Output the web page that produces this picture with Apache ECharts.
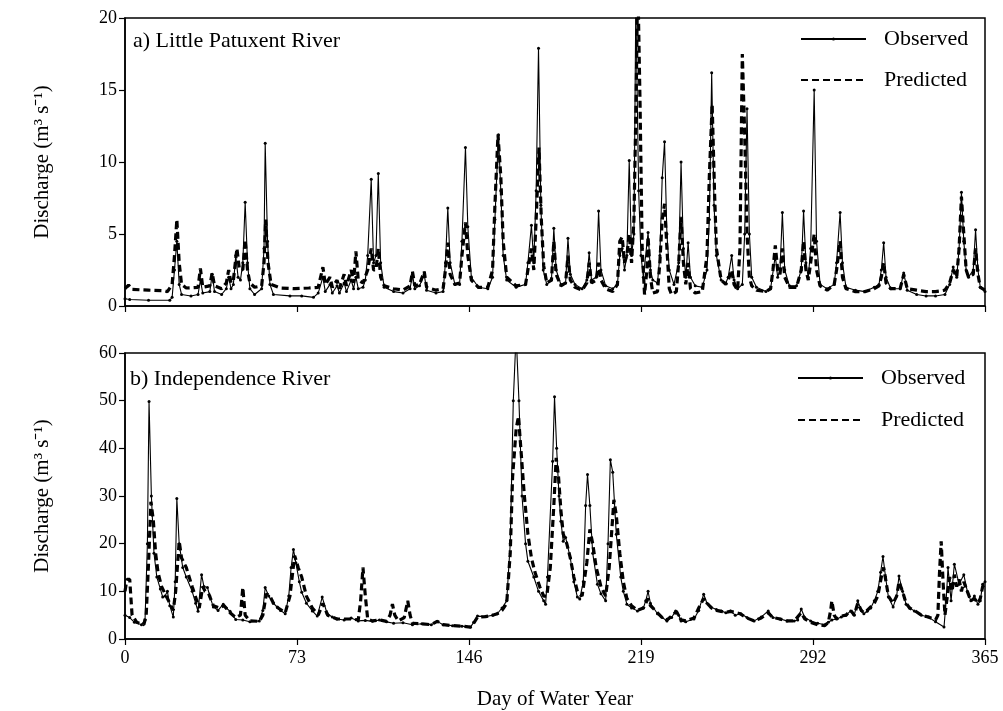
<!DOCTYPE html>
<html>
<head>
<meta charset="utf-8">
<script src="https://cdn.jsdelivr.net/npm/echarts@6/dist/echarts.min.js"></script>
<style>html,body{margin:0;padding:0;background:#fff}#c{width:1003px;height:711px}</style>
</head>
<body>
<div id="c"></div>
<script>
const xTicks = [0, 73, 146, 219, 292, 365];
const yTicksA = [0, 5, 10, 15, 20];
const yTicksB = [0, 10, 20, 30, 40, 50, 60];
const panelTitles = ['a) Little Patuxent River', 'b) Independence River'];
const seriesNames = ['Observed', 'Predicted'];

// [day, discharge] vertices
const obsA = [[0,0.5],[2,0.45],[10,0.4],[19,0.4],[20,0.6],[21,2.5],[22,4.5],[23,1.5],[24,0.8],[28,0.7],[31,0.8],[32,1.8],[33,0.9],[36,1.0],[37,2.2],[38,1.0],[41,0.8],[43,1.2],[44,2.0],[45,1.2],[46,1.5],[47,3.5],[48,2.0],[49,1.8],[50,3.0],[51,7.2],[52,3.0],[53,1.2],[55,0.8],[58,1.2],[59,4.0],[59.5,11.3],[60.5,4.5],[61.5,1.5],[63,0.8],[70,0.7],[75,0.7],[80,0.6],[82,0.9],[84,2.0],[85,1.0],[87,1.5],[88,0.9],[90,1.4],[91,0.9],[93,1.6],[94,1.0],[96,1.8],[97,1.2],[98,2.0],[99,1.2],[101,1.3],[102,1.8],[103,3.5],[104.5,8.8],[105.5,3.0],[106.5,3.5],[107.5,9.2],[108.5,3.0],[110,1.3],[114,1.0],[118,0.9],[121,1.2],[122,2.2],[123,1.2],[125,1.4],[127,2.2],[128,1.1],[132,0.9],[135,1.0],[136,3.0],[137,6.8],[138,3.0],[140,1.5],[142,1.5],[143,4.5],[144.5,11.0],[145.5,5.5],[147,2.0],[150,1.3],[154,1.2],[156,2.0],[157,6.0],[158.5,11.9],[159.5,8],[160.5,3.5],[162,1.8],[166,1.3],[170,1.5],[171,3.0],[172.5,5.6],[173.5,3.0],[174.5,8.0],[175.5,17.9],[176.5,7.0],[177.5,2.5],[179,1.5],[181,1.8],[182,5.4],[183,2.5],[185,1.5],[187,1.6],[188,4.7],[189,2.2],[191,1.5],[194,1.2],[196,1.8],[197,3.7],[198,1.8],[200,2.0],[201,6.6],[202,2.5],[204,1.4],[207,1.2],[209,1.5],[210,3.5],[211,4.0],[212,2.5],[213,3.5],[214,10.1],[215,3.5],[216,5.0],[216.8,21],[218,8],[219,3.5],[220,2.0],[222,5.1],[223,2.5],[224,1.8],[226,1.6],[227,3.5],[228,8.9],[229,11.4],[230,5.0],[231,2.5],[233,1.5],[235,3.0],[236,10.0],[237,4.0],[238,2.0],[239,4.4],[240,2.0],[242,1.4],[245,1.3],[247,2.5],[248,6.0],[249,16.2],[250,7.0],[251,3.5],[253,1.8],[255,1.6],[256,2.0],[257.5,3.5],[258.5,1.8],[260,1.2],[262,1.5],[263,5.0],[264,13.7],[265,5.0],[266,2.0],[268,1.3],[272,1.0],[274,1.2],[276,3.5],[277,2.0],[278,2.5],[279,6.5],[280,2.5],[282,1.4],[285,1.4],[287,2.5],[288,6.6],[289,3.0],[290,2.0],[291,4.0],[292.5,15.0],[293.5,4.5],[295,1.5],[298,1.2],[301,1.5],[302,3.0],[303.5,6.5],[304.5,3.0],[306,1.3],[310,1.1],[314,1.0],[318,1.3],[320,1.5],[321,2.5],[322,4.4],[323,2.0],[325,1.2],[329,1.2],[330.5,2.3],[332,1.1],[336,0.8],[340,0.7],[344,0.7],[348,0.8],[350,1.5],[351.5,2.7],[353,2.0],[354,4.0],[355,7.9],[356,4.5],[357,2.5],[358,2.0],[360,2.5],[361,5.3],[362,2.5],[363,1.3],[365,1.0]];

const predA = [[0,1.2],[1.5,1.45],[3,1.15],[10,1.1],[17,1.05],[18,1.0],[20,1.5],[21,3.5],[22,6.0],[23,3.0],[24,1.5],[26,1.25],[31,1.3],[32,2.6],[33,1.3],[36,1.4],[37,2.3],[38,1.4],[41,1.2],[43,1.6],[44,2.5],[45,1.6],[46,1.8],[47.5,4.0],[48.5,2.6],[50,2.5],[51,4.6],[52,2.5],[53,1.6],[55,1.3],[58,1.4],[59,3.0],[59.7,6.0],[60.7,3.0],[62,1.5],[66,1.25],[72,1.2],[78,1.25],[82,1.3],[84,2.7],[85,1.5],[87,2.0],[88,1.3],[90,1.8],[91,1.2],[93,2.2],[94,1.4],[96,2.5],[97,1.6],[98,3.8],[99,1.8],[101,1.6],[103,2.5],[104.5,4.0],[105.5,2.5],[106.5,2.5],[107.5,4.0],[108.5,2.0],[110,1.4],[114,1.2],[118,1.1],[121,1.4],[122,2.4],[123,1.4],[125,1.5],[127,2.4],[128,1.3],[132,1.1],[135,1.2],[136,2.5],[137,4.4],[138,2.2],[140,1.5],[142,1.6],[143,3.5],[144.5,5.8],[145.5,3.5],[147,1.8],[150,1.3],[154,1.3],[156,2.5],[157,7.0],[158.3,11.9],[159.5,9.0],[160.5,4.5],[162,2.0],[166,1.4],[170,1.5],[171,2.5],[172.5,4.0],[173.5,2.5],[174.5,6.0],[175.7,11.0],[176.7,6.0],[177.7,2.8],[179,1.6],[181,1.8],[182,4.5],[183,2.2],[185,1.4],[187,1.6],[188,3.5],[189,1.8],[191,1.3],[194,1.1],[196,1.6],[197,3.0],[198,1.6],[200,1.8],[201,3.0],[202,1.8],[204,1.2],[207,1.0],[209,1.5],[210,4.5],[211,4.8],[212,3.0],[213,3.5],[214,5.0],[215,3.0],[216,6.0],[217,15],[217.6,23],[218.6,14],[219.5,4],[220.5,0.8],[221.5,2.5],[222,4.8],[223,2.0],[224,0.9],[226,1.0],[227,3.0],[228,6.0],[229,7.1],[230,4.0],[231,1.2],[232,0.8],[234,1.0],[235,3.0],[236,6.2],[237,3.0],[238,1.5],[239,3.0],[240,1.2],[242,0.9],[245,1.0],[247,3.5],[248,9.0],[249.2,14.0],[250.2,8.0],[251,4.0],[253,1.8],[255,1.5],[256,1.8],[257.5,2.5],[258.5,1.5],[260,1.1],[261,4.0],[262,17.5],[263,12.0],[264,5.0],[265,2.0],[266,1.4],[268,1.1],[272,1.0],[274,1.2],[275,2.5],[276,4.2],[277,2.5],[278,2.2],[279,4.0],[280,2.0],[282,1.3],[285,1.3],[287,2.5],[288,4.5],[289,2.5],[290,1.8],[291,3.0],[292.5,5.0],[293.5,2.5],[295,1.4],[298,1.1],[301,1.5],[302,2.5],[303.5,4.5],[304.5,2.0],[306,1.2],[310,1.0],[314,1.0],[318,1.2],[320,1.4],[321,2.0],[322,3.0],[323,1.6],[325,1.2],[329,1.2],[330.5,2.2],[332,1.2],[336,1.1],[340,1.0],[344,1.0],[348,1.1],[350,1.6],[351.5,2.5],[353,2.0],[354,4.0],[355,7.6],[356,5.0],[357,2.5],[358,2.0],[360,2.2],[361,4.0],[362,2.2],[363,1.3],[365,1.1]];

const obsB = [[0,5.0],[2,4.5],[4,3.5],[7,3.0],[8.5,4.0],[9.5,20],[10.2,49.8],[11.2,30],[12.3,18],[13.5,13],[15,10.5],[16,8.8],[17,9],[18,10],[19,7],[20.5,4.6],[21.3,12],[22,29.5],[23,20],[24.5,15],[26,13],[28.5,10],[30,7.5],[31,5.8],[32.5,13.5],[33.5,11],[35,10.8],[36,9],[37.5,6.7],[39.5,6.0],[41.7,7.3],[43,6.5],[44.6,5.8],[47,4.1],[50,4.0],[53,3.6],[57,3.8],[58.5,6],[59.5,10.8],[61,9],[63,7.5],[64.6,6.7],[66,6.0],[68,5.3],[69.5,9],[70.5,15],[71.5,18.8],[72.5,16],[74,12],[75,9.8],[77,7.5],[79.5,5.9],[81.6,4.8],[83.7,8.8],[85.8,5.3],[88,4.6],[90,4.2],[93,4.0],[96,4.4],[99,3.8],[102,3.9],[105,3.7],[108,4.0],[111,3.6],[114,3.3],[118,3.4],[122,3.0],[126,3.2],[130,3.0],[132.5,3.7],[135,3.0],[139,2.8],[143,2.7],[146.6,2.5],[148,3.5],[149.6,4.8],[153,4.7],[156,5.0],[158,5.3],[160,6.5],[162,8],[163.5,20],[164.8,50],[166,64],[167.2,50],[168.5,30],[170,20],[171,16.3],[173.5,13],[175.5,10],[177.7,8],[178.5,7.3],[179.3,13],[181.5,37.3],[182.3,50.8],[183.2,40],[184.2,30],[185,24.7],[186,20.5],[187,21.3],[189,17],[190.5,12],[192,8.8],[193,8.4],[194.5,12],[195.5,28],[196.3,34.5],[197.3,28],[198.5,18],[200.5,11.5],[202,9.5],[204,8],[205,20],[206,37.6],[207,35],[208.5,22],[210.4,13],[211.5,10],[213,7.3],[215,6.5],[217.5,5.9],[220,6.5],[221,8],[222,10],[223,7.5],[226,5.3],[228,4.5],[230,3.8],[232,4.5],[233.7,5.9],[235,5],[236,3.8],[238,3.6],[241.5,4.2],[243.5,6],[245.6,9.4],[247,7.5],[248.6,6.7],[251,6.2],[253,5.9],[255,5.5],[257,5.9],[259,5.0],[261.4,5.3],[264,4.5],[267,3.8],[270,4.6],[273,5.9],[275,4.5],[278,4.2],[281,3.8],[284,3.8],[285.5,4.0],[287,6.3],[288.5,4.5],[291,3.8],[294,3.3],[297,3.0],[298.5,3.5],[300,4.0],[302,4.2],[304,4.6],[306,5.0],[308,5.9],[309.5,5.0],[311,8],[312.5,6],[313.6,5.3],[315,5.8],[316.5,6.5],[318,8],[319.5,10],[320.7,14],[321.7,17.3],[322.8,13],[324,8.8],[326,6.7],[327.5,9],[328.5,13.2],[330,10],[331.5,7.3],[333,6.5],[335,5.9],[338,5.0],[341,4.6],[344,3.6],[347.6,2.5],[348.5,8],[349.3,15],[350.6,8],[352,15.7],[354,11.5],[356,13.5],[357.5,10],[359,8],[360.5,9],[362,7.3],[363,8],[364,11.5],[365,12]];

const predB = [[0,10],[0.8,12.5],[2,12.5],[3,5.0],[5,3.5],[8,3.0],[9,5],[10,16],[11,28.8],[12,25],[13,18],[14,14],[15.5,11],[17,9.5],[18.5,8],[20.5,6],[21.5,10],[23,20.5],[24,17],[26,15],[28.5,11],[30.5,8],[31.5,6.5],[33,11],[34,10],[35.5,9.5],[37.5,7],[40,6.5],[42,7],[44.6,5.5],[47,4.5],[49,5],[50,10.8],[51,5],[53,3.8],[57,3.7],[58.5,5],[60,9.5],[61.5,9],[63,7.5],[65,6.5],[68,5.5],[70,9],[72,17.5],[73.5,15],[75,13],[77,9],[79.5,6.5],[82,5],[84,7.5],[86,5],[90,4.2],[93,4.2],[96,4.2],[99,4],[100,8],[101,15],[102,9],[103,4.2],[105,3.8],[108,4.0],[111,3.7],[112.5,5],[113.5,7.3],[114.5,5],[116,3.8],[118.5,4.5],[120,8],[121,5],[122,3.3],[126,3.2],[130,3.0],[132.5,3.7],[135,3.0],[139,2.8],[143,2.7],[146.6,2.5],[148,3.3],[149.6,4.6],[153,4.7],[156,5.0],[158,5.3],[160,6],[162,7.5],[163.5,18],[164.5,34],[166,44],[167,46.7],[168,40],[169.5,30],[171,22],[172.5,17],[174,14],[176,11],[177.7,9],[179,9],[180.5,15],[182,28],[183,38],[184,34],[185,27],[186,22],[187.5,20],[189,17],[190.5,13],[192,10],[194,9],[196,16],[197.3,23],[198.5,20],[200,15],[202,11],[204,9],[205.5,15],[207.5,29.2],[208.5,26],[210,18],[211.5,12],[213,8.5],[215,7],[217.5,6],[220,6.5],[222,8.5],[223,7],[226,5.5],[228,4.5],[230,4],[232,4.8],[234,5.8],[236,4],[238,3.8],[241.5,4.4],[243.5,6.5],[245.6,8.5],[247,7.5],[249,6.5],[251,6],[253,5.8],[255,5.6],[257,5.8],[261,5.3],[264,4.4],[267,3.8],[270,4.4],[273,5.5],[275,4.5],[278,4.2],[281,3.8],[284,3.8],[287,5.5],[288.5,4.2],[291,3.5],[294,3.0],[297,2.8],[298.5,3.5],[299.5,6],[300,8],[301,5],[302,4.2],[304,4.8],[306,5.0],[308,6.0],[309.5,5.0],[311,7.5],[312.5,6],[313.6,5.5],[315,6],[318,7.5],[319.5,9],[321,13],[322,15],[323,12],[324,9],[326,7.5],[327.5,9],[328.5,12],[330,10],[331.5,7.5],[333,6.5],[335,6],[338,5],[341,4.6],[344,4],[345,5],[345.7,14],[346.4,20.5],[347.2,12],[348,5],[349,9],[350,13],[351,10],[352,13.5],[353,11],[354,12.5],[355,10],[356,12],[357.5,10],[359,8],[360.5,8.5],[362,7.5],[363,8.5],[364,11],[365,11.5]];

const FONT = 'Liberation Serif';
const chart = echarts.init(document.getElementById('c'), null, {renderer: 'canvas'});

function xAxisFor(gi, showLabels) {
  return {
    type: 'value', gridIndex: gi, min: xTicks[0], max: xTicks[xTicks.length - 1],
    interval: xTicks[1] - xTicks[0],
    axisLine: {show: true, onZero: false, lineStyle: {color: '#000', width: 1.5}},
    axisTick: {show: true, inside: false, length: 6, lineStyle: {color: '#000', width: 1.2}},
    axisLabel: {show: showLabels, color: '#000', fontFamily: FONT, fontSize: 18, margin: 10},
    splitLine: {show: false},
    name: showLabels ? 'Day of Water Year' : '',
    nameLocation: 'middle', nameGap: 50,
    nameTextStyle: {color: '#000', fontFamily: FONT, fontSize: 21}
  };
}
function yAxisFor(gi, ticks) {
  return {
    type: 'value', gridIndex: gi, min: ticks[0], max: ticks[ticks.length - 1],
    interval: ticks[1] - ticks[0],
    axisLine: {show: true, lineStyle: {color: '#000', width: 1.5}},
    axisTick: {show: true, inside: false, length: 6, lineStyle: {color: '#000', width: 1.2}},
    axisLabel: {color: '#000', fontFamily: FONT, fontSize: 18, margin: 8},
    splitLine: {show: false},
    name: 'Discharge (m\u00B3 s\u207B\u00B9)',
    nameLocation: 'middle', nameGap: 72, nameRotate: 90,
    nameTextStyle: {color: '#000', fontFamily: FONT, fontSize: 21}
  };
}
function obsSeries(gi, data) {
  return {
    name: seriesNames[0], type: 'line', xAxisIndex: gi, yAxisIndex: gi, data: data,
    symbol: 'circle', symbolSize: 3, showAllSymbol: true,
    itemStyle: {color: '#000'},
    lineStyle: {color: '#000', width: 1.1}, z: 3
  };
}
function predSeries(gi, data) {
  return {
    name: seriesNames[1], type: 'line', xAxisIndex: gi, yAxisIndex: gi, data: data,
    symbol: 'none',
    itemStyle: {color: '#000'},
    lineStyle: {color: '#000', width: 3.2, type: [7, 4]}, z: 2
  };
}
function legendFor(left, top, gap) {
  return {
    data: [{name: seriesNames[0]}, {name: seriesNames[1], itemStyle: {opacity: 0}}],
    orient: 'vertical', left: left, top: top, padding: 0,
    itemWidth: 65, itemHeight: 4, itemGap: gap,
    textStyle: {color: '#000', fontFamily: FONT, fontSize: 22, padding: [0, 0, 0, 13]},
    selectedMode: false
  };
}

chart.setOption({
  animation: false,
  backgroundColor: '#fff',
  title: [
    {text: panelTitles[0], left: 128, top: 25, textStyle: {color: '#000', fontFamily: FONT, fontSize: 22, fontWeight: 'normal'}},
    {text: panelTitles[1], left: 125, top: 363, textStyle: {color: '#000', fontFamily: FONT, fontSize: 22, fontWeight: 'normal'}}
  ],
  legend: [legendFor(800, 28, 19), legendFor(797, 367, 20)],
  grid: [
    {left: 125, top: 18, width: 860, height: 288, show: true, borderColor: '#000', borderWidth: 1.5, backgroundColor: 'transparent'},
    {left: 125, top: 353, width: 860, height: 287, show: true, borderColor: '#000', borderWidth: 1.5, backgroundColor: 'transparent'}
  ],
  xAxis: [xAxisFor(0, false), xAxisFor(1, true)],
  yAxis: [yAxisFor(0, yTicksA), yAxisFor(1, yTicksB)],
  series: [obsSeries(0, obsA), predSeries(0, predA), obsSeries(1, obsB), predSeries(1, predB)]
});
</script>
</body>
</html>
